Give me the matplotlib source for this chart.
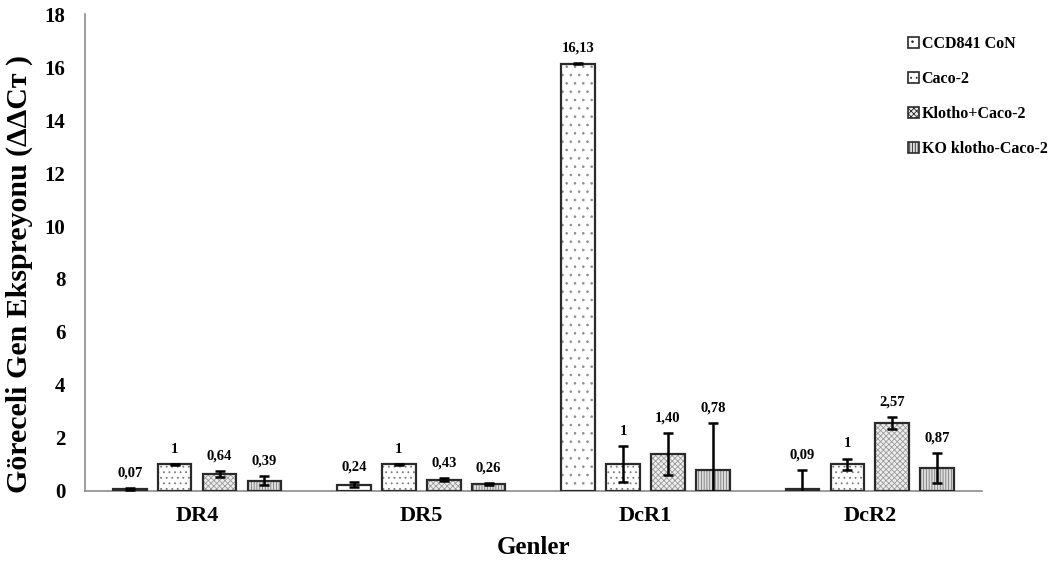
import matplotlib
matplotlib.use("Agg")
import matplotlib.pyplot as plt
from matplotlib.patches import Patch
import numpy as np

genes = ["DR4", "DR5", "DcR1", "DcR2"]
series = ["CCD841 CoN", "Caco-2", "Klotho+Caco-2", "KO klotho-Caco-2"]
values = {
    "CCD841 CoN":       [0.07, 0.24, 16.13, 0.09],
    "Caco-2":           [1.00, 1.00, 1.00, 1.00],
    "Klotho+Caco-2":    [0.64, 0.43, 1.40, 2.57],
    "KO klotho-Caco-2": [0.39, 0.26, 0.78, 0.87],
}
errors = {
    "CCD841 CoN":       [0.04, 0.10, 0.03, 0.70],
    "Caco-2":           [0.02, 0.02, 0.68, 0.22],
    "Klotho+Caco-2":    [0.10, 0.05, 0.80, 0.23],
    "KO klotho-Caco-2": [0.17, 0.04, 1.80, 0.57],
}
labels = {
    "CCD841 CoN":       ["0,07", "0,24", "16,13", "0,09"],
    "Caco-2":           ["1", "1", "1", "1"],
    "Klotho+Caco-2":    ["0,64", "0,43", "1,40", "2,57"],
    "KO klotho-Caco-2": ["0,39", "0,26", "0,78", "0,87"],
}

hatches = ["..", "...", "xxxxxx", "||||||"]
hatch_cols = ["#8a8a8a", "#7a7a7a", "#9a9a9a", "#7a7a7a"]
face_cols = ["white", "white", "#eeeeee", "#dedede"]

plt.rcParams["font.family"] = ["Liberation Serif", "DejaVu Serif"]
plt.rcParams["font.weight"] = "bold"
plt.rcParams["hatch.linewidth"] = 0.6

fig = plt.figure(figsize=(10.49, 5.63), dpi=100)
ax = fig.add_axes([0.081, 0.128, 0.855, 0.847])

x = np.arange(len(genes))
width = 0.15
step = 0.2
for i, s in enumerate(series):
    xs = x + (i - 1.5) * step
    v = np.array(values[s])
    e = np.array(errors[s])
    ax.bar(xs, v, width, color=face_cols[i], edgecolor=hatch_cols[i],
           hatch=hatches[i], linewidth=0, zorder=2)
    ax.bar(xs, v, width, fill=False, edgecolor="#2a2a2a", linewidth=1.6, zorder=3)
    ax.errorbar(xs, v, yerr=e, fmt="none", ecolor="black", elinewidth=1.8,
                capsize=3.5, capthick=1.8, zorder=4)
    for xi, vi, ei, lab in zip(xs, v, e, labels[s]):
        top = vi + ei
        ax.annotate(lab, (xi, top), xytext=(0, 6), textcoords="offset points",
                    ha="center", va="bottom", fontsize=10.5, fontweight="bold")

ax.set_xlim(-0.5, 3.5)
ax.set_ylim(0, 18)
ax.set_yticks(np.arange(0, 19, 2))
ax.set_xticks(x)
ax.set_xticklabels(genes, fontsize=16, fontweight="bold")
ax.tick_params(axis="both", length=0)
ax.tick_params(axis="y", labelsize=15, pad=14)
ax.tick_params(axis="x", pad=11)
for lab in ax.get_yticklabels():
    lab.set_fontweight("bold")
for sp in ["top", "right"]:
    ax.spines[sp].set_visible(False)
for sp in ["left", "bottom"]:
    ax.spines[sp].set_color("#8c8c8c")
    ax.spines[sp].set_linewidth(1.2)

ax.set_xlabel("Genler", fontsize=18, fontweight="bold", labelpad=7)
ax.set_ylabel("Göreceli Gen Ekspreyonu (ΔΔCт )", fontsize=21.5, fontweight="bold")
ax.yaxis.set_label_coords(-0.058, 0.455)

handles = [Patch(facecolor=face_cols[i], edgecolor="#2a2a2a", hatch=hatches[i], linewidth=1.2)
           for i in range(len(series))]
fig.legend(handles, series, loc="upper left", bbox_to_anchor=(0.852, 0.962),
           frameon=False, handlelength=0.7, handleheight=0.7, handletextpad=0.15,
           labelspacing=1.2, prop={"weight": "bold", "size": 11.5})

fig.savefig("out.png", dpi=100)
